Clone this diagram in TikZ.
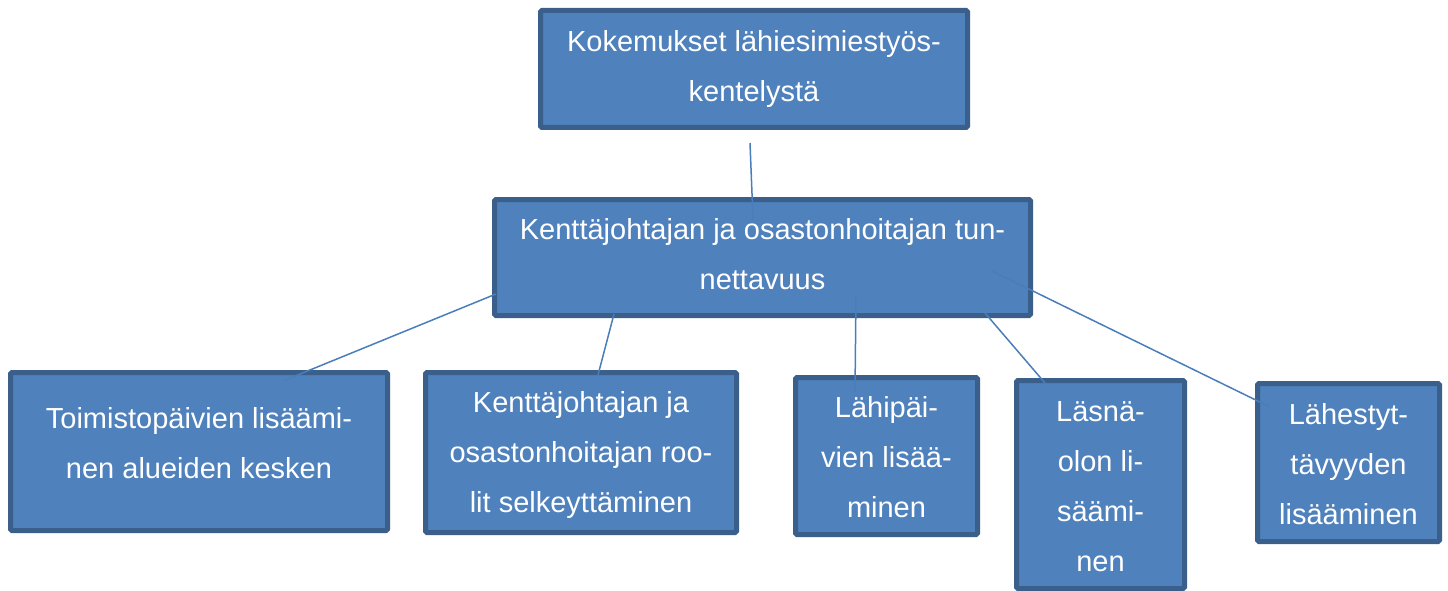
\documentclass[tikz,border=0pt]{standalone}
\usepackage{fontspec}
\setmainfont{Liberation Sans}
\definecolor{boxfill}{HTML}{4F81BD}
\definecolor{boxline}{HTML}{3A5F8B}
\definecolor{linkcol}{HTML}{4A7EBB}
\tikzset{
  box/.style={rectangle, draw=boxline, fill=boxfill, line width=5pt, rounded corners=1.5pt, inner sep=0pt},
  txt/.style={text=white, align=center, inner sep=0pt, font={\fontsize{29}{50}\selectfont}},
  link/.style={draw=linkcol, line width=1.5pt}
}
\begin{document}
\begin{tikzpicture}[x=1pt,y=-1pt]
\useasboundingbox (0,0) rectangle (1448,591);
\node[box, minimum width=427pt, minimum height=117pt] (top) at (754,69) {};
\node[box, minimum width=536pt, minimum height=116pt] (mid) at (762.5,257.5) {};
\node[box, minimum width=377pt, minimum height=158pt] (b1) at (199,451.5) {};
\node[box, minimum width=311pt, minimum height=160pt] (b2) at (581,452.5) {};
\node[box, minimum width=182pt, minimum height=157pt] (b3) at (886.5,456) {};
\node[box, minimum width=168pt, minimum height=208pt] (b4) at (1100.5,484.5) {};
\node[box, minimum width=182pt, minimum height=158pt] (b5) at (1348.5,462.5) {};
\node[txt] (ttop) at (top.center) {Kokemukset lähiesimiestyös-\\kentelystä};
\node[txt] (tmid) at ([yshift=3pt]mid.center) {Kenttäjohtajan ja osastonhoitajan tun-\\nettavuus};
\node[txt] (tb1) at ([yshift=8.5pt]b1.center) {Toimistopäivien lisäämi-\\nen alueiden kesken};
\node[txt] (tb2) at ([yshift=-2.5pt]b2.center) {Kenttäjohtajan ja\\osastonhoitajan roo-\\lit selkeyttäminen};
\node[txt] (tb3) at ([yshift=-1.5pt]b3.center) {Lähipäi-\\vien lisää-\\minen};
\node[txt] (tb4) at ([yshift=-2pt]b4.center) {Läsnä-\\olon li-\\säämi-\\nen};
\node[txt] (tb5) at ([yshift=-1.5pt]b5.center) {Lähestyt-\\tävyyden\\lisääminen};
\coordinate (t0) at (750,143);
\coordinate (t1) at (753,219);
\coordinate (m1) at (496,294);
\coordinate (e1) at (283,381);
\coordinate (m2) at (614,314);
\coordinate (e2) at (598,375);
\coordinate (m3) at (856,294);
\coordinate (e3) at (855,392);
\coordinate (m4) at (985,313);
\coordinate (e4) at (1045,383);
\coordinate (m5) at (992,271);
\coordinate (e5) at (1270,407);
\draw[link] (t0) -- (t1);
\draw[link] (m1) -- (e1);
\draw[link] (m2) -- (e2);
\draw[link] (m3) -- (e3);
\draw[link] (m4) -- (e4);
\draw[link] (m5) -- (e5);
\end{tikzpicture}
\end{document}
